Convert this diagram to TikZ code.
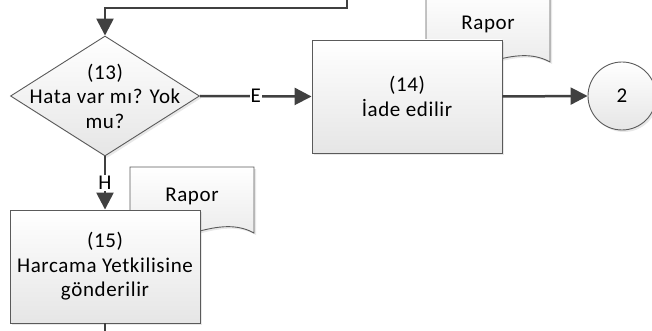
\documentclass[tikz,border=0pt]{standalone}
\usepackage{fontspec}
\setmainfont{Carlito}[LetterSpace=3]
\usetikzlibrary{shapes.geometric,arrows.meta,shadows}

\definecolor{edgegray}{HTML}{5A5A5A}
\definecolor{flowgray}{HTML}{404040}

\tikzset{
  shadebox/.style={draw=edgegray, line width=0.9pt, top color=white, bottom color=black!10,
    drop shadow={opacity=0.18, shadow xshift=2pt, shadow yshift=-2pt}},
  process/.style={shadebox, rectangle, minimum width=190pt, minimum height=113pt, inner sep=0pt, align=center},
  decision/.style={shadebox, diamond, minimum width=189pt, minimum height=120pt, inner sep=0pt},
  connector/.style={shadebox, circle, minimum size=68pt, inner sep=0pt},
  doc/.style={shadebox},
  flow/.style={draw=flowgray, line width=2.5pt, -{Triangle[length=17pt,width=17pt]}},
  plainflow/.style={draw=flowgray, line width=2.5pt},
  lbl/.style={fill=white, inner sep=1pt},
}

\begin{document}
\begin{tikzpicture}[x=1pt, y=-1pt, every node/.style={font=\fontsize{21}{24.5}\selectfont}]
  \useasboundingbox (0,0) rectangle (652,331);
  \clip (0,0) rectangle (652,331);

  % report sheets behind the boxes
  \draw[doc] (426,-10) -- (550,-10) -- (550,62) .. controls (510,40) and (466,84) .. (426,62) -- cycle;
  \node (rapor14) at (488,24) {Rapor};
  \draw[doc] (130,167) -- (254,167) -- (254,233) .. controls (214,211) and (170,255) .. (130,233) -- cycle;
  \node (rapor15) at (192,196) {Rapor};

  % steps
  \node[decision] (d13) at (105,96) {};
  \node[align=center] (t13) at (d13) {(13)\\Hata var mı? Yok\\mu?};
  \node[process] (b14) at (407,96.5) {(14)\\İade edilir};
  \node[process] (b15) at (105,266.5) {(15)\\Harcama Yetkilisine\\gönderilir};
  \node[connector] (c2) at (622,96) {2};

  \coordinate (top) at (347,-5);
  \coordinate (bend) at (347,8);
  \coordinate (bottom) at (105,340);

  % connectors
  \draw[flow] (top) -- (bend) -| (d13.north);
  \draw[flow] (d13.east) -- node[lbl] {E} (b14.west);
  \draw[flow] (b14.east) -- (c2.west);
  \draw[flow] (d13.south) -- node[lbl] {H} (b15.north);
  \draw[plainflow] (b15.south) -- (bottom);
\end{tikzpicture}
\end{document}
